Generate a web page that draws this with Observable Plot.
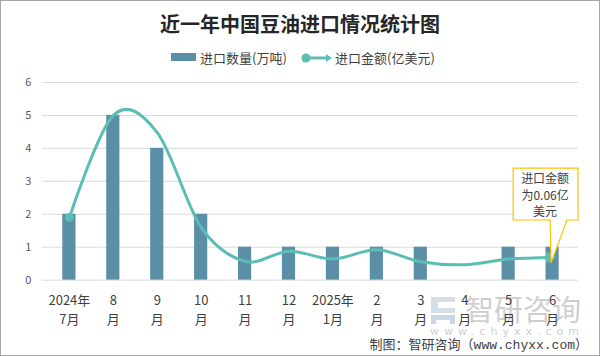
<!DOCTYPE html>
<html><head><meta charset="utf-8">
<script src="https://cdn.jsdelivr.net/npm/d3@7"></script>
<script src="https://cdn.jsdelivr.net/npm/@observablehq/plot@0.6"></script>
<style>
body{margin:0;background:#fff;font-family:"Noto Sans CJK SC","Noto Sans",sans-serif;}
#wrap{position:relative;width:598px;height:354px;border:1px solid #a6a6a6;overflow:hidden;background:#fff}
#title{position:absolute;left:-1px;top:9px;width:600px;text-align:center;font-size:20px;font-weight:bold;color:#262626;line-height:28px}
.leg{position:absolute;top:47px;font-size:13px;color:#404040;line-height:19px;white-space:nowrap}
#chart{position:absolute;left:-1px;top:69px}
#wm{position:absolute;left:427px;top:293px}
#caption{position:absolute;right:11px;top:333px;font-size:13px;color:#404040;font-family:"Liberation Mono","Noto Sans CJK SC",monospace;white-space:nowrap}
</style></head>
<body>
<div id="wrap">
  <div id="title">近一年中国豆油进口情况统计图</div>
  <svg style="position:absolute;left:170px;top:52px" width="27" height="10"><rect x="0" y="0" width="25" height="8" fill="#5b8fa8"/></svg>
  <div class="leg" style="left:199px">进口数量(万吨)</div>
  <svg style="position:absolute;left:299px;top:50px" width="34" height="14"><line x1="6" y1="7" x2="28" y2="7" stroke="#5cbdb4" stroke-width="3"/><circle cx="6" cy="7" r="4.5" fill="#5cbdb4"/><path d="M26,3 L32,7 L26,11 Z" fill="#5cbdb4"/></svg>
  <div class="leg" style="left:334px">进口金额(亿美元)</div>
  <div id="wm">
    <svg width="170" height="44" style="position:absolute;left:0;top:0">
      <path d="M3,3 h24 v5 h-17 v6 h17 v5 h-24 z" fill="#d5dde6"/>
      <path d="M3,21 h24 v9 h-5 v-4 h-14 v4 h-5 z" fill="#c9d6e4"/>
      <text x="37" y="27" font-size="29" fill="#cfcfcf" font-family="Noto Sans CJK SC">智研咨询</text>
      <text x="2" y="41" font-size="11" fill="#cfcfcf" letter-spacing="5" font-family="DejaVu Sans">www.chyxx.com</text>
    </svg>
  </div>
  <div id="chart"></div>
  <div id="caption">制图：智研咨询（www.chyxx.com）</div>
</div>
<script>
const months = ["2024年\n7月","8\n月","9\n月","10\n月","11\n月","12\n月","2025年\n1月","2\n月","3\n月","4\n月","5\n月","6\n月"];
const quantity = [2,5,4,2,1,1,1,1,1,0,1,1];
const amount = [1.9,5.0,4.48,1.6,0.57,0.88,0.64,0.92,0.56,0.47,0.64,0.69];
const yTicks = [0,1,2,3,4,5,6];
const noteLines = ["进口金额","为0.06亿","美元"];

const data = months.map((m,i)=>({m, q:quantity[i], a:amount[i]}));
const barColor = "#5b8fa8", lineColor = "#5cbdb4";

const annotation = (index, scales) => {
  const xs = scales.x, ys = scales.y;
  const bw = xs.bandwidth ? xs.bandwidth() : 0;
  const last = data[data.length-1];
  const px = xs(last.m) + bw/2, py = ys(last.a);
  const g = d3.create("svg:g");
  const L = px-39, R = px+26, T = py-89, B = py-37;
  g.append("path")
    .attr("d", `M${L},${T}H${R}V${B}H${px+15}L${px-1},${py+6}L${px-2},${B}H${L}Z`)
    .attr("fill","#fff").attr("stroke","#ffc000").attr("stroke-width",1.2);
  noteLines.forEach((t,i)=>{
    g.append("text").attr("x",px-7).attr("y",py-74+i*16.5)
      .attr("text-anchor","middle").attr("font-size",12).attr("fill","#404040")
      .attr("font-family","Noto Sans CJK SC").text(t);
  });
  return g.node();
};

const chart = Plot.plot({
  width:600, height:286,
  marginTop:12, marginBottom:76, marginLeft:42, marginRight:21,
  style:{fontFamily:"Noto Sans CJK SC, sans-serif", background:"transparent"},
  x:{domain:months, padding:0, label:null},
  y:{domain:[0,6], label:null},
  marks:[
    Plot.gridY(yTicks,{stroke:"#d9d9d9", strokeOpacity:1}),
    Plot.axisY(yTicks,{tickSize:0, tickPadding:11, fontSize:11, color:"#595959", label:null}),
    Plot.axisX({tickSize:0, tickPadding:11, fontSize:13, lineHeight:1.5, color:"#404040", label:null}),
    Plot.barY(data,{x:"m", y:"q", fill:barColor, insetLeft:15.4, insetRight:15.4}),
    Plot.line(data,{x:"m", y:"a", stroke:lineColor, strokeWidth:3, curve:"cardinal", tension:0}),
    Plot.dot([data[0]],{x:"m", y:"a", r:4.5, fill:lineColor}),
    Plot.dot([data[data.length-1]],{x:"m", y:"a", symbol:"triangle", rotate:90, r:4.5, dx:-3, fill:lineColor}),
    annotation
  ]
});
document.getElementById("chart").appendChild(chart);
</script>
</body></html>
